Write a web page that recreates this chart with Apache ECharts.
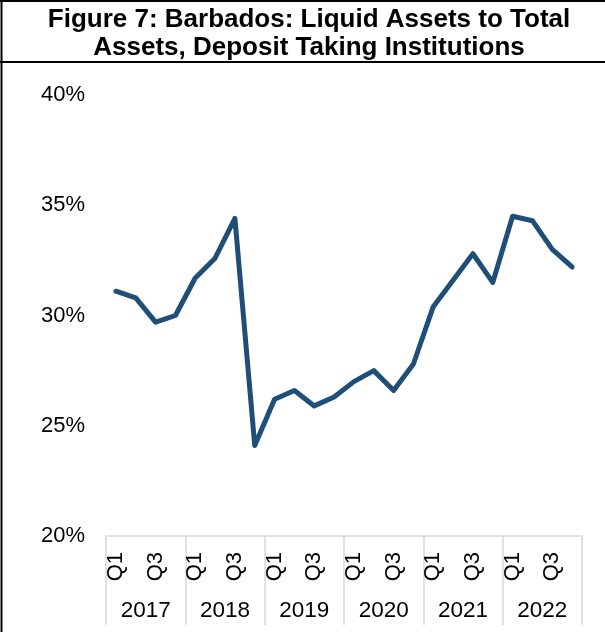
<!DOCTYPE html>
<html>
<head>
<meta charset="utf-8">
<script src="https://cdn.jsdelivr.net/npm/echarts@6/dist/echarts.min.js"></script>
<style>
  html, body { margin: 0; padding: 0; background: #fff; }
  #chart { width: 605px; height: 635px; }
</style>
</head>
<body>
<div id="chart"></div>
<script>
// Liquid assets as a share of total assets, quarterly 2017Q1 to 2022Q4 (percent)
const years = ['2017', '2018', '2019', '2020', '2021', '2022'];
const quarters = ['Q1', 'Q2', 'Q3', 'Q4'];
const liquidRatio = [
  31.1, 30.8, 29.7, 30.0,
  31.7, 32.6, 34.4, 24.1,
  26.2, 26.6, 25.9, 26.3,
  27.0, 27.5, 26.6, 27.8,
  30.4, 31.6, 32.8, 31.5,
  34.5, 34.3, 33.0, 32.2
];
const yTicks = { min: 20, max: 40, step: 5 };

const categories = [];
years.forEach(y => quarters.forEach(q => categories.push(y + ' ' + q)));

const font = '"Liberation Sans", Arial, sans-serif';
const chart = echarts.init(document.getElementById('chart'), null, { renderer: 'canvas' });

chart.setOption({
  animation: false,
  backgroundColor: '#ffffff',
  title: {
    text: 'Figure 7: Barbados: Liquid Assets to Total\nAssets, Deposit Taking Institutions',
    left: 309,
    top: 6,
    padding: 0,
    textAlign: 'center',
    textStyle: {
      fontFamily: font,
      fontSize: 26,
      fontWeight: 'bold',
      color: '#000',
      lineHeight: 28
    }
  },
  grid: { left: 106, right: 23, top: 95, bottom: 99, containLabel: false },
  xAxis: [
    {
      type: 'category',
      data: categories,
      boundaryGap: true,
      axisLine: { show: true, lineStyle: { color: '#d9d9d9', width: 1.5 } },
      axisTick: { show: false },
      axisLabel: {
        interval: 0,
        rotate: 90,
        margin: 16,
        fontFamily: font,
        fontSize: 22,
        color: '#000',
        formatter: v => {
          const q = v.split(' ')[1];
          return (q === 'Q1' || q === 'Q3') ? q : '';
        }
      }
    },
    {
      type: 'category',
      data: years,
      position: 'bottom',
      boundaryGap: true,
      axisLine: { show: false },
      axisTick: { show: true, length: 89, lineStyle: { color: '#d9d9d9', width: 1.5 } },
      axisLabel: {
        interval: 0,
        margin: 63,
        fontFamily: font,
        fontSize: 22.5,
        color: '#000'
      }
    }
  ],
  yAxis: {
    type: 'value',
    min: yTicks.min,
    max: yTicks.max,
    interval: yTicks.step,
    axisLine: { show: false },
    axisTick: { show: false },
    splitLine: { show: false },
    axisLabel: {
      margin: 21,
      fontFamily: font,
      fontSize: 22,
      color: '#000',
      formatter: '{value}%'
    }
  },
  series: [{
    type: 'line',
    data: liquidRatio,
    xAxisIndex: 0,
    symbol: 'none',
    lineStyle: { color: '#1f4e79', width: 5, cap: 'round', join: 'round' }
  }],
  graphic: [
    { type: 'line', shape: { x1: 1.5, y1: 0, x2: 1.5, y2: 632 }, style: { stroke: '#000', lineWidth: 2 } },
    { type: 'line', shape: { x1: 0, y1: 1, x2: 605, y2: 1 }, style: { stroke: '#000', lineWidth: 2 } },
    { type: 'line', shape: { x1: 0, y1: 62, x2: 605, y2: 62 }, style: { stroke: '#000', lineWidth: 2 } }
  ]
});
</script>
</body>
</html>
